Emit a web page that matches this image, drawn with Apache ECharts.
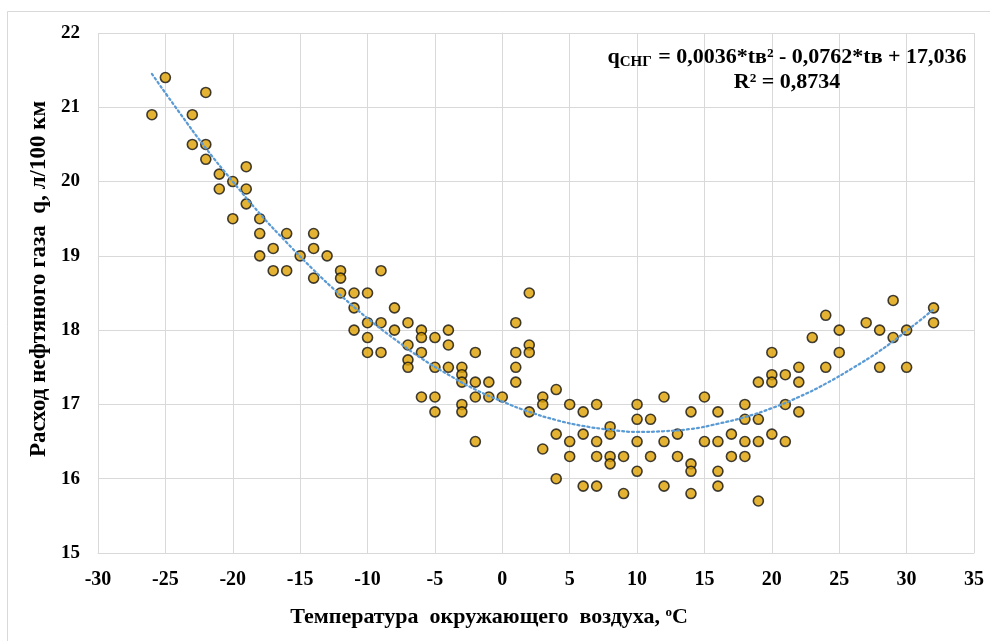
<!DOCTYPE html>
<html>
<head>
<meta charset="utf-8">
<script src="https://cdn.jsdelivr.net/npm/echarts@6/dist/echarts.min.js"></script>
<style>
html,body{margin:0;padding:0;background:#fff;}
#chart{width:990px;height:641px;}
</style>
</head>
<body>
<div id="chart"></div>
<script>
// Scatter data: ambient temperature (°C) and fuel consumption q (l/100 km)
const tempX = [
  -26, -25, -23, -23, -22, -22, -22, -21, -21, -20, -20, -19, -19, -19,
  -18, -18, -18, -17, -17, -16, -16, -15, -14, -14, -14, -13, -12, -12, -12,
  -11, -11, -11, -10, -10, -10, -10, -9, -9, -9, -8, -8,
  -7, -7, -7, -7, -6, -6, -6, -6, -5, -5, -5, -5, -4, -4, -4,
  -3, -3, -3, -3, -3, -2, -2, -2, -2, -1, -1, 0,
  1, 1, 1, 1, 2, 2, 2, 2, 3, 3, 3, 4, 4, 4, 5, 5, 5, 6, 6, 6,
  7, 7, 7, 7, 8, 8, 8, 8, 9, 9, 10, 10, 10, 10, 11, 11, 12, 12, 12,
  13, 13, 14, 14, 14, 14, 15, 15, 16, 16, 16, 16, 17, 17,
  18, 18, 18, 18, 19, 19, 19, 19, 20, 20, 20, 20, 21, 21, 21,
  22, 22, 22, 23, 24, 24, 25, 25, 27, 28, 28, 29, 29, 30, 30, 32, 32
];
const fuelY = [
  20.9, 21.4, 20.9, 20.5, 21.2, 20.5, 20.3, 20.1, 19.9, 20.0, 19.5, 20.2, 19.9, 19.7,
  19.5, 19.3, 19.0, 19.1, 18.8, 19.3, 18.8, 19.0, 19.3, 19.1, 18.7, 19.0, 18.8, 18.7, 18.5,
  18.5, 18.3, 18.0, 18.5, 18.1, 17.9, 17.7, 18.8, 18.1, 17.7, 18.3, 18.0,
  18.1, 17.8, 17.6, 17.5, 18.0, 17.9, 17.7, 17.1, 17.9, 17.5, 17.1, 16.9, 18.0, 17.8, 17.5,
  17.5, 17.4, 17.3, 17.0, 16.9, 17.7, 17.3, 17.1, 16.5, 17.3, 17.1, 17.1,
  18.1, 17.7, 17.5, 17.3, 18.5, 17.8, 17.7, 16.9, 17.1, 17.0, 16.4, 17.2, 16.6, 16.0, 17.0, 16.5, 16.3, 16.9, 16.6, 15.9,
  17.0, 16.5, 16.3, 15.9, 16.7, 16.6, 16.3, 16.2, 16.3, 15.8, 17.0, 16.8, 16.5, 16.1, 16.8, 16.3, 17.1, 16.5, 15.9,
  16.6, 16.3, 16.9, 16.2, 16.1, 15.8, 17.1, 16.5, 16.9, 16.5, 16.1, 15.9, 16.6, 16.3,
  17.0, 16.8, 16.5, 16.3, 17.3, 16.8, 16.5, 15.7, 17.7, 17.4, 17.3, 16.6, 17.4, 17.0, 16.5,
  17.5, 17.3, 16.9, 17.9, 18.2, 17.5, 18.0, 17.7, 18.1, 18.0, 17.5, 18.4, 17.9, 18.0, 17.5, 18.3, 18.1
];
// Trendline points
const trendX = [-26, -24, -22, -20, -18, -16, -14, -12, -10, -8, -6, -4, -2, 0, 2, 4, 6, 8, 10, 12, 14, 16, 18, 20, 22, 24, 26, 28, 30, 32];
const trendY = [21.45, 20.94, 20.45, 20.00, 19.57, 19.18, 18.81, 18.47, 18.16, 17.88, 17.62, 17.40, 17.20, 17.04, 16.90, 16.79, 16.71, 16.66, 16.63, 16.64, 16.67, 16.74, 16.83, 16.95, 17.10, 17.28, 17.49, 17.72, 17.99, 18.28];

const xTicks = { min: -30, max: 35, step: 5 };
const yTicks = { min: 15, max: 22, step: 1 };

const xName = 'Температура  окружающего  воздуха, {sup|о}С';
const yName = 'Расход нефтяного газа  q, л/100 км';
const eqLine1 = 'q{sub|СНГ} = 0,0036*tв² - 0,0762*tв + 17,036';
const eqLine2 = 'R² = 0,8734';

const FONT = '"Liberation Serif", "Times New Roman", serif';

const scatterData = tempX.map((x, i) => [x, fuelY[i]]);
const trendData = trendX.map((x, i) => [x, trendY[i]]);

const chart = echarts.init(document.getElementById('chart'), null, { renderer: 'canvas' });
chart.setOption({
  backgroundColor: '#ffffff',
  animation: false,
  grid: { left: 98, right: 16, top: 33, bottom: 88, containLabel: false },
  graphic: [
    {
      type: 'rect', z: -10, silent: true,
      shape: { x: 7.5, y: 11.5, width: 1100, height: 800 },
      style: { fill: 'none', stroke: '#d9d9d9', lineWidth: 1 }
    },
    {
      type: 'text', z: 100, x: 787, y: 45,
      style: {
        text: eqLine1 + '\n' + '{l2|' + eqLine2 + '}',
        align: 'center', verticalAlign: 'top',
        font: 'bold 22px ' + FONT, fill: '#000',
        lineHeight: 25,
        rich: {
          sub: { fontFamily: FONT, fontWeight: 'bold', fontSize: 15, fill: '#000', verticalAlign: 'bottom', lineHeight: 12, padding: [0, 1, 0, 0] },
          l2: { fontFamily: FONT, fontWeight: 'bold', fontSize: 22, fill: '#000', lineHeight: 25 }
        }
      }
    }
  ],
  xAxis: {
    type: 'value', min: xTicks.min, max: xTicks.max, interval: xTicks.step,
    name: xName, nameLocation: 'middle', nameGap: 53,
    nameTextStyle: {
      fontFamily: FONT, fontWeight: 'bold', fontSize: 22, color: '#000',
      padding: [0, 94, 0, 0],
      rich: { sup: { fontFamily: FONT, fontWeight: 'bold', fontSize: 13, color: '#000', verticalAlign: 'top', lineHeight: 13 } }
    },
    axisLine: { show: true, lineStyle: { color: '#d9d9d9', width: 1 } },
    axisTick: { show: false },
    axisLabel: { fontFamily: FONT, fontWeight: 'bold', fontSize: 20, color: '#000', margin: 17 },
    splitLine: { show: true, lineStyle: { color: '#d9d9d9', width: 1 } }
  },
  yAxis: {
    type: 'value', min: yTicks.min, max: yTicks.max, interval: yTicks.step,
    name: yName, nameLocation: 'middle', nameGap: 45, nameRotate: 90,
    nameTextStyle: { fontFamily: FONT, fontWeight: 'bold', fontSize: 23, color: '#000', padding: [0, 0, 0, 28] },
    axisLine: { show: true, lineStyle: { color: '#d9d9d9', width: 1 } },
    axisTick: { show: false },
    axisLabel: { fontFamily: FONT, fontWeight: 'bold', fontSize: 19, color: '#000', margin: 18 },
    splitLine: { show: true, lineStyle: { color: '#d9d9d9', width: 1 } }
  },
  series: [
    {
      type: 'scatter', name: 'q', data: scatterData,
      symbol: 'circle', symbolSize: 10, z: 2,
      itemStyle: { color: '#DDA000', borderColor: '#111', borderWidth: 1.6 }
    },
    {
      type: 'line', name: 'trend', data: trendData, smooth: true,
      showSymbol: false, symbol: 'none', z: 5,
      lineStyle: { color: '#5B9BD5', width: 2.25, type: [2, 3], cap: 'round' }
    }
  ]
});
</script>
</body>
</html>
